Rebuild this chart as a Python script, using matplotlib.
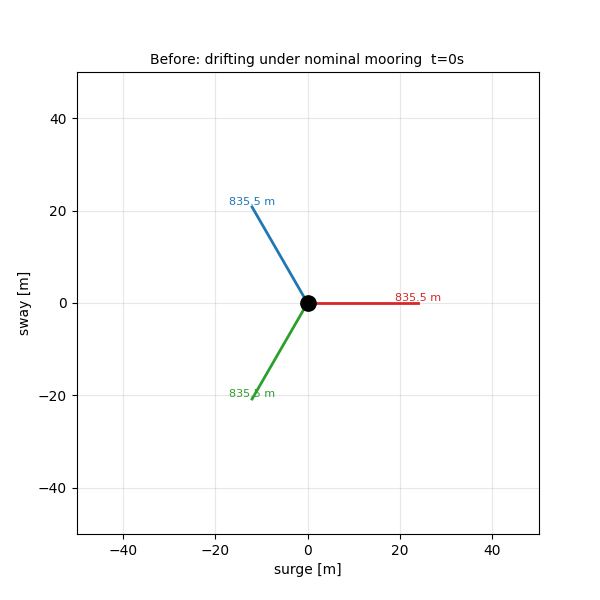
import numpy as np
import matplotlib
matplotlib.use("Agg")
import matplotlib.pyplot as plt

# Data
line_angles_deg = [0, 120, 240]
line_lengths_plot = [24, 24, 24]
line_labels = ["835.5 m", "835.5 m", "835.5 m"]
line_colors = ["tab:red", "tab:blue", "tab:green"]
vessel_pos = (0.0, 0.0)

fig, ax = plt.subplots(figsize=(6, 6), dpi=100)
ax.grid(True, alpha=0.3)
for ang, L, lab, c in zip(line_angles_deg, line_lengths_plot, line_labels, line_colors):
    a = np.deg2rad(ang)
    x1 = vessel_pos[0] + L * np.cos(a)
    y1 = vessel_pos[1] + L * np.sin(a)
    ax.plot([vessel_pos[0], x1], [vessel_pos[1], y1], color=c, lw=2)
    ax.text(x1, y1, lab, color=c, fontsize=8, ha="center", va="bottom")
ax.plot([vessel_pos[0]], [vessel_pos[1]], "o", color="black", markersize=11, zorder=5)
ax.set_xlim(-50, 50)
ax.set_ylim(-50, 50)
ax.set_aspect("equal")
ax.set_xlabel("surge [m]")
ax.set_ylabel("sway [m]")
ax.set_title("Before: drifting under nominal mooring  t=0s", fontsize=10)
fig.savefig("out.png", dpi=100)
